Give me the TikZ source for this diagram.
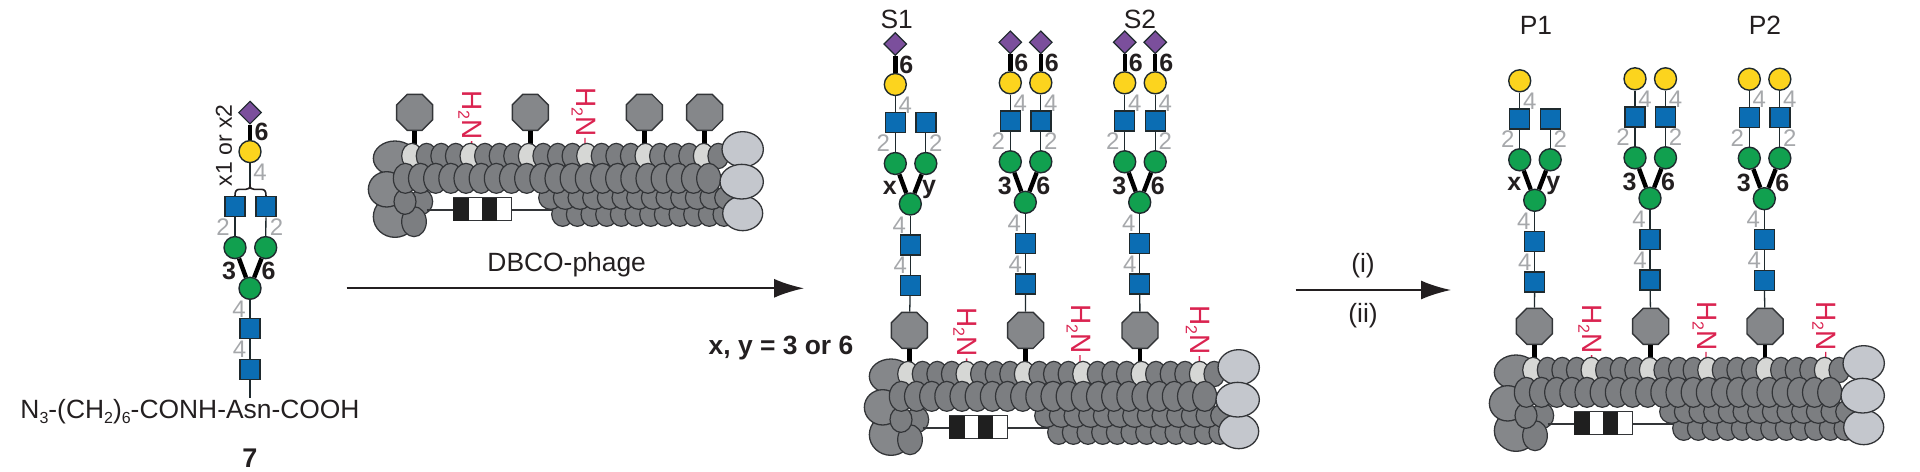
\documentclass[tikz,border=0pt]{standalone}
\usepackage{fontspec}
\setmainfont{Liberation Sans}
\usetikzlibrary{shapes.geometric,arrows.meta}
\definecolor{glyline}{HTML}{1F2A2E}
\definecolor{glygreen}{HTML}{11A04F}
\definecolor{glyyellow}{HTML}{FCD41E}
\definecolor{glyblue}{HTML}{0B6DB3}
\definecolor{glypurple}{HTML}{7B4F9C}
\definecolor{linkgrey}{HTML}{A6A8AB}
\definecolor{inkblack}{HTML}{231F20}
\definecolor{aminered}{HTML}{DA2350}
\definecolor{coatdark}{HTML}{7C7E81}
\definecolor{coatbig}{HTML}{85878A}
\definecolor{coatlight}{HTML}{D6D7D5}
\definecolor{coatpale}{HTML}{C4C7CD}
\definecolor{coatline}{HTML}{333538}
\tikzset{
  man/.style={circle,draw=glyline,fill=glygreen,line width=.7pt,inner sep=0,minimum size=11pt},
  gal/.style={circle,draw=glyline,fill=glyyellow,line width=.7pt,inner sep=0,minimum size=11pt},
  nag/.style={rectangle,draw=glyline,fill=glyblue,line width=.7pt,inner sep=0,minimum size=10pt},
  sia/.style={diamond,draw=glyline,fill=glypurple,line width=.6pt,inner sep=0,minimum width=11.5pt,minimum height=11.5pt,aspect=1},
  thinlink/.style={draw=glyline,line width=.65pt},
  thicklink/.style={draw=black,line width=2.2pt},
  greylab/.style={text=linkgrey,font=\fontsize{12}{12}\selectfont,inner sep=0},
  boldlab/.style={text=inkblack,font=\fontsize{12.5}{12.5}\selectfont\bfseries,inner sep=0},
  plainlab/.style={text=inkblack,font=\fontsize{13.2}{13.2}\selectfont,inner sep=0},
  coat/.style={draw=coatline,line width=.6pt,fill=coatdark},
  coatb/.style={draw=coatline,line width=.65pt,fill=coatbig},
  coatp/.style={draw=coatline,line width=.65pt,fill=coatpale},
  octa/.style={regular polygon,regular polygon sides=8,draw=coatline,fill=coatbig,line width=.7pt,inner sep=0,minimum size=19.5pt},
  amine/.style={rotate=-90,anchor=base west,inner sep=0,text=aminered,font=\fontsize{14}{14}\selectfont},
  rxn/.style={line width=1pt,draw=inkblack,-{Latex[length=15pt,width=9.5pt]}},
}
\newcommand{\sbs}[1]{\raisebox{-2.2pt}{\fontsize{8}{8}\selectfont #1}}
% #1 name, #2 dx, #3 dy, #4 octagon x list, #5 amine x/y list
\newcommand{\phagebody}[5]{%
\begin{scope}[shift={(340+#2,70+#3)},x=.16667pt,y=-.16667pt]
  \foreach \ox [count=\i] in {#4}{
    \node[octa] (#1-o\i) at (\ox,127) {};
    \coordinate (#1-s\i) at (\ox,232);
    \draw[thicklink] (#1-o\i) -- (#1-s\i);
  }
  \foreach \ax/\ay [count=\i] in {#5}{
    \node[amine] (#1-a\i) at (\ax-27,\ay) {H\sbs{2}N};
    \coordinate (#1-b\i) at (\ax,232);
    \draw[draw=aminered,line width=.7pt] ([xshift=4.5pt,yshift=-.5pt]#1-a\i.base east) -- (#1-b\i);
  }
  \draw[coatb] (165,265) ellipse [x radius=65,y radius=52];
  \draw[coatb] (165,440) ellipse [x radius=65,y radius=62];
  \draw[coatb] (140,358) ellipse [x radius=55,y radius=53];
  \draw[coat] (245,395) ellipse [x radius=33,y radius=38];
  \draw[coat] (222,455) ellipse [x radius=37,y radius=45];
  \draw[coat] (195,395) ellipse [x radius=33,y radius=38];
  % genome line and barcode
  \draw[coatline,line width=.6pt] (260,420) -- (640,420);
  \fill[white,draw=coatline,line width=.6pt] (340,383) rectangle (515,452);
  \fill[black!88] (340,383) rectangle (387,452);
  \fill[black!88] (427,383) rectangle (472,452);
  % lower rows
  \foreach \k in {0,...,11}{ \draw[coat] ({668+44*\k},433) ellipse [x radius=33,y radius=36]; }
  \foreach \k in {0,...,12}{ \draw[coat] ({632+44*\k},383) ellipse [x radius=36,y radius=35]; }
  % top row, every fourth subunit light
  \foreach \k in {0,...,21}{
    \pgfmathtruncatemacro{\m}{mod(\k,4)}
    \ifnum\m=0
      \draw[coat,fill=coatlight] ({216+43.75*\k},258) ellipse [x radius=31,y radius=38];
    \else
      \draw[coat] ({216+43.75*\k},258) ellipse [x radius=31,y radius=38];
    \fi
  }
  \foreach \k in {0,...,20}{ \draw[coat] ({196+45.5*\k},325) ellipse [x radius=36,y radius=45]; }
  \draw[coatp] (1208,238) ellipse [x radius=62,y radius=53];
  \draw[coatp] (1208,430) ellipse [x radius=60,y radius=52];
  \draw[coatp] (1205,335) ellipse [x radius=65,y radius=52];
\end{scope}}
% trunk: #1 name, #2 cx, #3 cy, #4 left bold label, #5 phage octagon
\newcommand{\trunk}[5]{%
\begin{scope}[shift={(#2,#3)}]
  \node[man] (#1-c) at (0,0) {};
  \node[man] (#1-ml) at (-15,-40.5) {};
  \node[man] (#1-mr) at (15.5,-40.5) {};
  \node[nag] (#1-nl) at (-15,-81.5) {};
  \node[nag] (#1-nr) at (15.5,-81.5) {};
  \node[nag] (#1-n1) at (0,41) {};
  \node[nag] (#1-n2) at (0,81.5) {};
  \draw[thicklink] (#1-c) -- (#1-ml);
  \draw[thicklink] (#1-c) -- (#1-mr);
  \draw[thinlink] (#1-ml) -- (#1-nl);
  \draw[thinlink] (#1-mr) -- (#1-nr);
  \draw[thinlink] (#1-c) -- (#1-n1);
  \draw[thinlink] (#1-n1) -- (#1-n2);
  \draw[thinlink] (#1-n2) -- (#5);
  \node[boldlab] at (-20.5,-16) {#4};
  \node[greylab] at (-27,-61) {2};
  \node[greylab] at (25.5,-61) {2};
  \node[greylab] at (-11,21) {4};
  \node[greylab] at (-10,61.5) {4};
\end{scope}}
% arm: #1 name, #2 cx, #3 cy, #4 branch (l/r), #5 1 = with sialic acid
\newcommand{\arm}[5]{%
\begin{scope}[shift={(#2,#3)}]
  \ifx l#4\def\bx{-15}\else\def\bx{15.5}\fi
  \node[gal] (#1-g#4) at (\bx,-119.5) {};
  \draw[thinlink] (#1-g#4) -- (#1-n#4);
  \node[greylab] at (\bx+10,-99) {4};
  \ifnum#5=1
    \node[sia] (#1-s#4) at (\bx,-160) {};
    \draw[thicklink] (#1-s#4) -- (#1-g#4);
    \node[boldlab] at (\bx+11,-139) {6};
  \fi
\end{scope}}
\begin{document}
\begin{tikzpicture}[x=.5pt,y=-.5pt]
\useasboundingbox (0,0) rectangle (1920,471);
% compound 7
\begin{scope}[shift={(250,288.3)}]
  \node[man] (u-c) at (0,0) {};
  \node[man] (u-ml) at (-15,-40.7) {};
  \node[man] (u-mr) at (15.7,-40.7) {};
  \node[nag] (u-nl) at (-15,-81.7) {};
  \node[nag] (u-nr) at (16,-81.7) {};
  \node[nag] (u-n1) at (0,40) {};
  \node[nag] (u-n2) at (0,81) {};
  \node[gal] (u-g) at (0,-136.7) {};
  \node[sia] (u-s) at (0,-175.7) {};
  \coordinate (u-tip) at (0,-104);
  \coordinate (u-foot) at (0,110);
  \draw[thicklink] (u-c) -- (u-ml);
  \draw[thicklink] (u-c) -- (u-mr);
  \draw[thicklink] (u-s) -- (u-g);
  \draw[thinlink] (u-ml) -- (u-nl);
  \draw[thinlink] (u-mr) -- (u-nr);
  \draw[thinlink] (u-c) -- (u-n1);
  \draw[thinlink] (u-n1) -- (u-n2);
  \draw[thinlink] (u-n2) -- (u-foot);
  \draw[thinlink] (u-g) -- (u-tip);
  \draw[inkblack,line width=.8pt] (u-nl.north) .. controls (-15,-97) and (-14,-99) .. (-10,-99) -- (-4,-99) .. controls (-1,-99) and (0,-100) .. (u-tip) .. controls (0,-100) and (1,-99) .. (4,-99) -- (11,-99) .. controls (15,-99) and (16,-97) .. (u-nr.north);
  \node[boldlab] at (11.5,-156) {6};
  \node[greylab] at (10,-116) {4};
  \node[greylab] at (-27,-61) {2};
  \node[greylab] at (26.5,-61) {2};
  \node[boldlab] at (-21,-17) {3};
  \node[boldlab] at (18.5,-17) {6};
  \node[greylab] at (-11,21) {4};
  \node[greylab] at (-10.5,61) {4};
  \node[plainlab,font=\fontsize{11.5}{11.5}\selectfont,rotate=90] (u-lab) at (-26,-143) {x1 or x2};
\end{scope}
\node[plainlab] (n7name) at (190,412) {N\sbs{3}-(CH\sbs{2})\sbs{6}-CONH-Asn-COOH};
\node[boldlab,font=\fontsize{13.5}{13.5}\selectfont\bfseries] (n7) at (250,458) {7};
% phages
\phagebody{pa}{0}{0}{224,571,913,1094}{395/60,735/50}
\phagebody{pb}{496}{218}{220,569,912}{392/58,732/48,1090/51}
\phagebody{pc}{1121}{214}{220,569,912}{392/60,735/50,1094/50}
% arrows and reagents
\coordinate (a1s) at (346.7,288.3);
\coordinate (a1e) at (804,288.3);
\draw[rxn] (a1s) -- (a1e);
\node[plainlab] (dbco) at (566.7,265) {DBCO-phage};
\coordinate (a2s) at (1295.5,290);
\coordinate (a2e) at (1451,290);
\draw[rxn] (a2s) -- (a2e);
\node[plainlab] (ri) at (1363,266) {(i)};
\node[plainlab] (rii) at (1363,316) {(ii)};
\node[boldlab,font=\fontsize{13.2}{13.2}\selectfont\bfseries] (xy) at (781,348) {x, y = 3 or 6};
\node[plainlab] (s1) at (896.7,19) {S1};
\node[plainlab] (s2) at (1140,19) {S2};
\node[plainlab] (p1) at (1536,25) {P1};
\node[plainlab] (p2) at (1765,25) {P2};
% glycans on phage
\trunk{ga}{910.3}{204}{x}{pb-o1}
\node[boldlab] at (929,189) {y};
\arm{ga}{910.3}{204}{l}{1}
\trunk{gb}{1025.3}{202.3}{3}{pb-o2}
\node[boldlab] at (1043.3,186) {6};
\arm{gb}{1025.3}{202.3}{l}{1}
\arm{gb}{1025.3}{202.3}{r}{1}
\trunk{gc}{1139.7}{202.3}{3}{pb-o3}
\node[boldlab] at (1157.7,186) {6};
\arm{gc}{1139.7}{202.3}{l}{1}
\arm{gc}{1139.7}{202.3}{r}{1}
\trunk{gd}{1534.7}{200.3}{x}{pc-o1}
\node[boldlab] at (1553.2,185) {y};
\arm{gd}{1534.7}{200.3}{l}{0}
\trunk{ge}{1650}{198.3}{3}{pc-o2}
\node[boldlab] at (1668,182) {6};
\arm{ge}{1650}{198.3}{l}{0}
\arm{ge}{1650}{198.3}{r}{0}
\trunk{gf}{1764.3}{198.7}{3}{pc-o3}
\node[boldlab] at (1782.3,182.7) {6};
\arm{gf}{1764.3}{198.7}{l}{0}
\arm{gf}{1764.3}{198.7}{r}{0}
\end{tikzpicture}
\end{document}
